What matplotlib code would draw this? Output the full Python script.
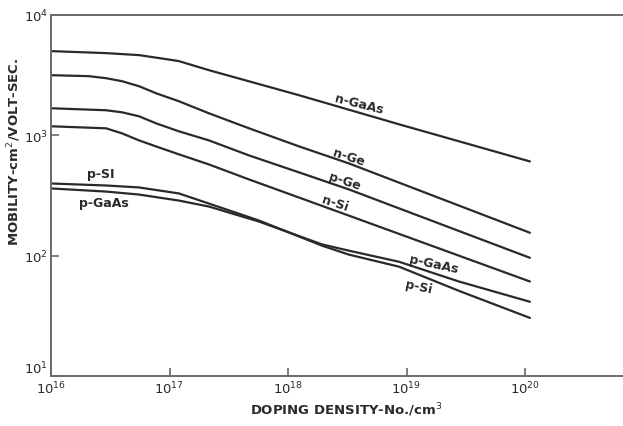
import numpy as np
import matplotlib
matplotlib.use("Agg")
import matplotlib.pyplot as plt

# doping density (cm^-3) and mobility (cm^2/V-s)
n_gaas_x = [1e16, 2.91e16, 5.53e16, 9.34e16, 1.20e17, 2.15e17, 1.24e18, 8.65e18, 1.10e20]
n_gaas_y = [5012, 4822, 4642, 4300, 4137, 3480, 2154, 1235, 607]

n_ge_x = [1e16, 2.09e16, 2.91e16, 3.97e16, 5.53e16, 7.69e16, 1.20e17, 2.15e17,
          4.69e17, 1.24e18, 3.27e18, 1.10e20]
n_ge_y = [3162, 3102, 2985, 2818, 2560, 2239, 1920, 1525, 1144, 809, 584, 155]

p_ge_x = [1e16, 2.91e16, 3.97e16, 5.53e16, 7.69e16, 1.20e17, 2.15e17, 4.69e17,
          1.24e18, 3.27e18, 1.10e20]
p_ge_y = [1679, 1616, 1554, 1440, 1259, 1080, 908, 681, 492, 355, 96]

n_si_x = [1e16, 2.91e16, 3.97e16, 5.53e16, 7.69e16, 1.20e17, 2.15e17, 4.69e17,
          1.24e18, 3.27e18, 1.10e20]
n_si_y = [1189, 1144, 1039, 908, 809, 695, 573, 430, 304, 215, 61]

p_si_x = [1e16, 2.91e16, 5.53e16, 1.20e17, 2.15e17, 5.69e17, 1.94e18, 3.27e18,
          8.65e18, 2.77e19, 1.10e20]
p_si_y = [398, 383, 369, 329, 271, 196, 121, 102, 81, 51, 30.4]

p_gaas_x = [1e16, 2.91e16, 5.53e16, 1.20e17, 2.15e17, 5.69e17, 1.94e18, 3.27e18,
            8.65e18, 2.77e19, 1.10e20]
p_gaas_y = [362, 341, 322, 287, 256, 192, 124, 110, 89, 61, 41.4]

x_ticks = [1e16, 1e17, 1e18, 1e19, 1e20]
x_tick_labels = ["$10^{16}$", "$10^{17}$", "$10^{18}$", "$10^{19}$", "$10^{20}$"]
y_ticks = [1e1, 1e2, 1e3, 1e4]
y_tick_labels = ["$10^{1}$", "$10^{2}$", "$10^{3}$", "$10^{4}$"]

ink = "#2a2a2a"
frame = "#6a6a6a"

fig = plt.figure(figsize=(6.23, 4.27), dpi=100)
ax = fig.add_axes([51 / 623, 50 / 427, 572 / 623, 361 / 427])

for xs, ys in [(n_gaas_x, n_gaas_y), (n_ge_x, n_ge_y), (p_ge_x, p_ge_y),
               (n_si_x, n_si_y), (p_si_x, p_si_y), (p_gaas_x, p_gaas_y)]:
    ax.plot(xs, ys, color=ink, lw=1.6, solid_capstyle="round", solid_joinstyle="round")

ax.set_xscale("log")
ax.set_yscale("log")
ax.set_xlim(1e16, 10 ** 20.827)
ax.set_ylim(1e1, 1e4)

ax.set_xticks(x_ticks)
ax.set_xticklabels(x_tick_labels)
ax.set_yticks(y_ticks)
ax.set_yticklabels(y_tick_labels)
ax.minorticks_off()
ax.tick_params(direction="in", length=6, width=1.2, color=frame,
               labelsize=9.5, labelcolor=ink, pad=3)
ax.tick_params(axis="y", pad=2)
# lift the bottom y label clear of the 10^16 label
ax.get_yticklabels()[0].set_va("bottom")

for side in ["left", "bottom", "top"]:
    ax.spines[side].set_color(frame)
    ax.spines[side].set_linewidth(1.4)
ax.spines["right"].set_visible(False)

# curve labels
lab = dict(color=ink, fontsize=9, fontweight="bold", ha="center", va="center")
ax.text(10 ** 18.6, 10 ** 3.26, "n-GaAs", rotation=-14, **lab)
ax.text(10 ** 18.51, 10 ** 2.82, "n-Ge", rotation=-18, **lab)
ax.text(10 ** 18.48, 10 ** 2.62, "p-Ge", rotation=-18, **lab)
ax.text(10 ** 18.4, 10 ** 2.44, "n-Si", rotation=-18, **lab)
ax.text(10 ** 19.23, 10 ** 1.93, "p-GaAs", rotation=-12, **lab)
ax.text(10 ** 19.1, 10 ** 1.74, "p-Si", rotation=-12, **lab)
ax.text(10 ** 16.42, 10 ** 2.68, "p-SI", **lab)
ax.text(10 ** 16.45, 10 ** 2.44, "p-GaAs", **lab)

fig.text(346 / 623, 1 - 410 / 427, "DOPING DENSITY-No./cm$^3$", color=ink,
         fontsize=9.5, fontweight="bold", ha="center", va="center")
fig.text(14 / 623, 1 - 152 / 427, "MOBILITY-cm$^2$/VOLT-SEC.", color=ink,
         fontsize=9.5, fontweight="bold", ha="center", va="center", rotation=90)

fig.savefig("out.png", dpi=100)
